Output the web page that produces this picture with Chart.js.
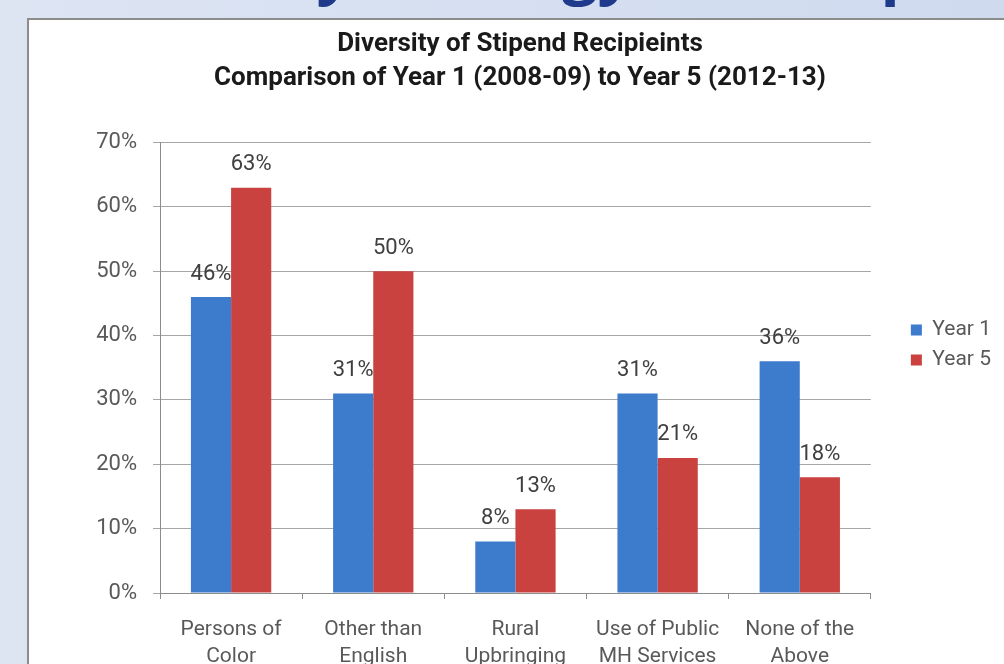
<!DOCTYPE html>
<html>
<head>
<meta charset="utf-8">
<script src="https://cdn.jsdelivr.net/npm/chart.js@4.4.1/dist/chart.umd.min.js"></script>
<style>
  html, body { margin: 0; padding: 0; width: 1004px; height: 664px; overflow: hidden; }
  body { position: relative; background: linear-gradient(to right, #dde5f3, #cfdaef); font-family: Roboto, sans-serif; }
  #tituloDiapo { position: absolute; left: 71px; top: -75px; font: bold 63px "Open Sans", sans-serif; color: #1f3a8a; white-space: nowrap; }
  #panel { position: absolute; left: 27px; top: 18px; width: 1000px; height: 700px; background: #fff; border-top: 2px solid #8c8c8c; border-left: 2px solid #8c8c8c; }
  #grafico { position: absolute; left: 0; top: 0; }
</style>
</head>
<body>
<div id="tituloDiapo">Diversity Strategy: The Stipend</div>
<div id="panel"><canvas id="grafico" width="986" height="650"></canvas></div>
<script>
// Datos
const categorias = [
  ["Persons of", "Color"],
  ["Other than", "English"],
  ["Rural", "Upbringing"],
  ["Use of Public", "MH Services"],
  ["None of the", "Above"]
];
const year1 = [46, 31, 8, 31, 36];
const year5 = [63, 50, 13, 21, 18];
const ticksY = [0, 10, 20, 30, 40, 50, 60, 70];

const grisTexto = "#595959";
const fuente = "Roboto";

// Etiquetas de valor encima de cada barra
const etiquetas = {
  id: "etiquetas",
  afterDatasetsDraw(chart) {
    const ctx = chart.ctx;
    ctx.save();
    ctx.font = "22px " + fuente;
    ctx.fillStyle = "#404040";
    ctx.textAlign = "center";
    ctx.textBaseline = "middle";
    chart.data.datasets.forEach((ds, i) => {
      chart.getDatasetMeta(i).data.forEach((bar, j) => {
        ctx.fillText(ds.data[j] + "%", bar.x, bar.y - 23);
      });
    });
    ctx.restore();
  }
};

const ctxBar = document.getElementById("grafico");
new Chart(ctxBar, {
  type: "bar",
  data: {
    labels: categorias,
    datasets: [
      { label: "Year 1", data: year1, backgroundColor: "#3d7bcc", categoryPercentage: 0.565, barPercentage: 1 },
      { label: "Year 5", data: year5, backgroundColor: "#c9423f", categoryPercentage: 0.565, barPercentage: 1 }
    ]
  },
  options: {
    responsive: false,
    animation: false,
    layout: { padding: { left: 10, right: 14, top: 0, bottom: 0 } },
    plugins: {
      title: {
        display: true,
        text: ["Diversity of Stipend Recipieints", "Comparison of Year 1 (2008-09) to Year 5 (2012-13)"],
        color: "#1a1a1a",
        font: { family: fuente, size: 26, weight: "bold", lineHeight: 1.3 },
        padding: { top: 8, bottom: 47 }
      },
      legend: {
        position: "right",
        labels: { boxWidth: 11, boxHeight: 11, padding: 9, color: grisTexto, font: { family: fuente, size: 21 } }
      },
      tooltip: { enabled: false }
    },
    scales: {
      x: {
        grid: { drawOnChartArea: false, drawTicks: true, tickLength: 6, color: "#8c8c8c", offset: true },
        border: { color: "#8c8c8c" },
        ticks: { color: grisTexto, font: { family: fuente, size: 21, lineHeight: 1.3 }, padding: 17, maxRotation: 0, autoSkip: false },
        afterFit(s) { s.height = 77; }
      },
      y: {
        min: 0,
        max: 70,
        afterBuildTicks(s) { s.ticks = ticksY.map(v => ({ value: v })); },
        ticks: { color: grisTexto, font: { family: fuente, size: 22 }, padding: 16, callback: v => v + "%" },
        grid: { color: "#a6a6a6", tickLength: 7 },
        border: { color: "#8c8c8c" },
        afterFit(s) { s.width = 121; }
      },
      y2: {
        position: "right",
        grid: { display: false },
        ticks: { display: false },
        border: { display: false },
        afterFit(s) { s.width = 31; }
      }
    }
  },
  plugins: [etiquetas]
});
</script>
</body>
</html>
